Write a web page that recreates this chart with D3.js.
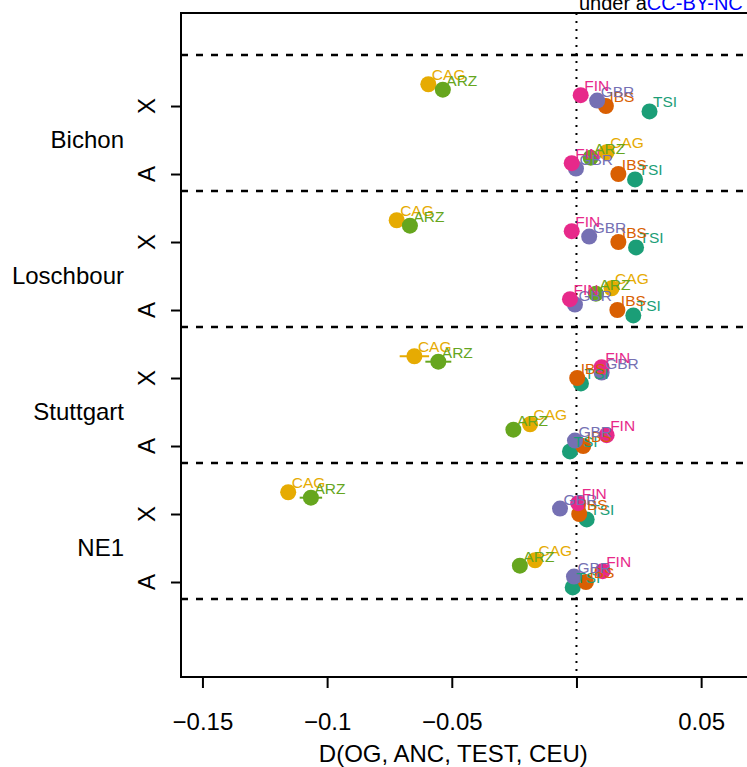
<!DOCTYPE html>
<html>
<head>
<meta charset="utf-8">
<script src="https://cdn.jsdelivr.net/npm/d3@7"></script>
<style>
body { margin: 0; background: #fff; overflow: hidden; }
svg { display: block; font-family: "Liberation Sans", Arial, Helvetica, sans-serif; }
</style>
</head>
<body>
<svg id="chart" width="747" height="767"></svg>
<script>
// samples (groups) and the two chromosome classes, top to bottom
var groups = ["Bichon", "Loschbour", "Stuttgart", "NE1"];
var chroms = ["X", "A"];
var pops = ["CAG", "ARZ", "FIN", "GBR", "IBS", "TSI"];
var popColors = ["#E6AB02", "#66A61E", "#E7298A", "#7570B3", "#D95F02", "#1B9E77"];
// vertical shift of each population inside a row (row units)
var popShift = [-0.32, -0.24, -0.16, -0.08, 0, 0.08];

// D values, one per row: Bichon X, Bichon A, Loschbour X, Loschbour A, Stuttgart X, Stuttgart A, NE1 X, NE1 A
var CAG = [-0.0594, 0.0121, -0.0721, 0.0141, -0.0650, -0.0186, -0.1156, -0.0166];
var ARZ = [-0.0536, 0.0057, -0.0668, 0.0078, -0.0554, -0.0253, -0.1065, -0.0227];
var FIN = [0.0017, -0.0019, -0.0019, -0.0026, 0.0101, 0.0121, 0.0007, 0.0105];
var GBR = [0.0083, -0.0002, 0.0051, -0.0006, 0.0101, -0.0006, -0.0066, -0.0010];
var IBS = [0.0118, 0.0168, 0.0168, 0.0164, 0.0003, 0.0027, 0.0011, 0.0038];
var TSI = [0.0293, 0.0235, 0.0239, 0.0228, 0.0018, -0.0026, 0.0041, -0.0015];
// half width of the error bars (mostly hidden under the points)
var CAG_se = [0.0030, 0.0025, 0.0030, 0.0025, 0.0059, 0.0025, 0.0030, 0.0025];
var ARZ_se = [0.0030, 0.0025, 0.0030, 0.0025, 0.0052, 0.0025, 0.0045, 0.0025];
var FIN_se = [0.0020, 0.0015, 0.0020, 0.0015, 0.0025, 0.0015, 0.0025, 0.0015];
var GBR_se = [0.0020, 0.0015, 0.0020, 0.0015, 0.0025, 0.0015, 0.0025, 0.0015];
var IBS_se = [0.0020, 0.0015, 0.0020, 0.0015, 0.0025, 0.0015, 0.0025, 0.0015];
var TSI_se = [0.0020, 0.0015, 0.0020, 0.0015, 0.0025, 0.0015, 0.0025, 0.0015];

var xTicks = [-0.15, -0.1, -0.05, 0, 0.05];
var xTickLabels = ["\u22120.15", "\u22120.1", "\u22120.05", "", "0.05"];
var groupBreaks = [-0.75, 1.25, 3.25, 5.25, 7.25];

(function() {
var values = {CAG: CAG, ARZ: ARZ, FIN: FIN, GBR: GBR, IBS: IBS, TSI: TSI};
var errors = {CAG: CAG_se, ARZ: ARZ_se, FIN: FIN_se, GBR: GBR_se, IBS: IBS_se, TSI: TSI_se};

var svg = d3.select("#chart"),
    plotLeft = 181, plotTop = 13, width = 572, height = 664;

var x = d3.scaleLinear().domain([-0.1586, 0.0708]).range([plotLeft, plotLeft + width]),
    y = d3.scaleLinear().domain([-1.368, 8.397]).range([plotTop, plotTop + height]),
    color = d3.scaleOrdinal().domain(pops).range(popColors);

// flatten into points
var points = [];
var drawOrder = ["CAG", "TSI", "IBS", "GBR", "FIN", "ARZ"];
drawOrder.forEach(function(p) {
    var k = pops.indexOf(p);
    values[p].forEach(function(v, r) {
        points.push({pop: p, row: r, value: v, se: errors[p][r], yy: r + popShift[k]});
    });
});

// group separators
svg.append("g").selectAll("line")
    .data(groupBreaks)
    .enter().append("line")
    .attr("x1", plotLeft).attr("x2", plotLeft + width)
    .attr("y1", function(d) { return y(d); })
    .attr("y2", function(d) { return y(d); })
    .attr("stroke", "#000")
    .attr("stroke-width", 2.5)
    .attr("stroke-dasharray", "7,8");

// zero line
svg.append("line")
    .attr("x1", x(0)).attr("x2", x(0))
    .attr("y1", plotTop).attr("y2", plotTop + height)
    .attr("stroke", "#000")
    .attr("stroke-width", 2)
    .attr("stroke-dasharray", "2,6");

// error bars
svg.append("g").selectAll("line")
    .data(points)
    .enter().append("line")
    .attr("x1", function(d) { return x(d.value - d.se); })
    .attr("x2", function(d) { return x(d.value + d.se); })
    .attr("y1", function(d) { return y(d.yy); })
    .attr("y2", function(d) { return y(d.yy); })
    .attr("stroke", function(d) { return color(d.pop); })
    .attr("stroke-width", 2);

svg.append("g").selectAll("circle")
    .data(points)
    .enter().append("circle")
    .attr("cx", function(d) { return x(d.value); })
    .attr("cy", function(d) { return y(d.yy); })
    .attr("r", 8)
    .attr("fill", function(d) { return color(d.pop); });

svg.append("g").selectAll("text")
    .data(points)
    .enter().append("text")
    .attr("x", function(d) { return x(d.value) + 3.5; })
    .attr("y", function(d) { return y(d.yy) - 4; })
    .attr("fill", function(d) { return color(d.pop); })
    .style("font-size", "15.5px")
    .text(function(d) { return d.pop; });

// box
svg.append("rect")
    .attr("x", plotLeft).attr("y", plotTop)
    .attr("width", width).attr("height", height)
    .attr("fill", "none")
    .attr("stroke", "#000")
    .attr("stroke-width", 2);

// x axis
var xAxis = svg.append("g")
    .attr("transform", "translate(0," + (plotTop + height) + ")")
    .call(d3.axisBottom(x).tickValues(xTicks).tickSize(11).tickPadding(25)
        .tickFormat(function(d, i) { return xTickLabels[i]; }));
xAxis.select(".domain").remove();
xAxis.selectAll("line").attr("stroke-width", 2);
xAxis.selectAll("text").attr("fill", "#000").style("font-size", "24px");
xAxis.attr("font-family", null);

svg.append("text")
    .attr("x", x(-0.0494)).attr("y", 762)
    .attr("text-anchor", "middle")
    .style("font-size", "24px")
    .text("D(OG, ANC, TEST, CEU)");

// y axis: one tick per row
var rows = d3.range(groups.length * chroms.length);
var yAxis = svg.append("g")
    .attr("transform", "translate(" + plotLeft + ",0)")
    .call(d3.axisLeft(y).tickValues(rows).tickSize(10).tickFormat(""));
yAxis.select(".domain").remove();
yAxis.selectAll("line").attr("stroke-width", 2);

svg.append("g").selectAll("text")
    .data(rows)
    .enter().append("text")
    .attr("transform", function(d) { return "translate(155," + y(d) + ") rotate(-90)"; })
    .attr("text-anchor", "middle")
    .style("font-size", "24px")
    .text(function(d) { return chroms[d % 2]; });

svg.append("g").selectAll("text")
    .data(groups)
    .enter().append("text")
    .attr("x", 124)
    .attr("y", function(d, i) { return y(i * 2 + 0.5); })
    .attr("dy", "0.35em")
    .attr("text-anchor", "end")
    .style("font-size", "24px")
    .text(function(d) { return d; });

// licence note at the top
var note = svg.append("text")
    .attr("x", 579).attr("y", 9.5)
    .style("font-size", "20px");
note.append("tspan").attr("fill", "#000").text("under a");
note.append("tspan").attr("fill", "#0000FF").text("CC-BY-NC 4.0 International license");
})();
</script>
</body>
</html>
